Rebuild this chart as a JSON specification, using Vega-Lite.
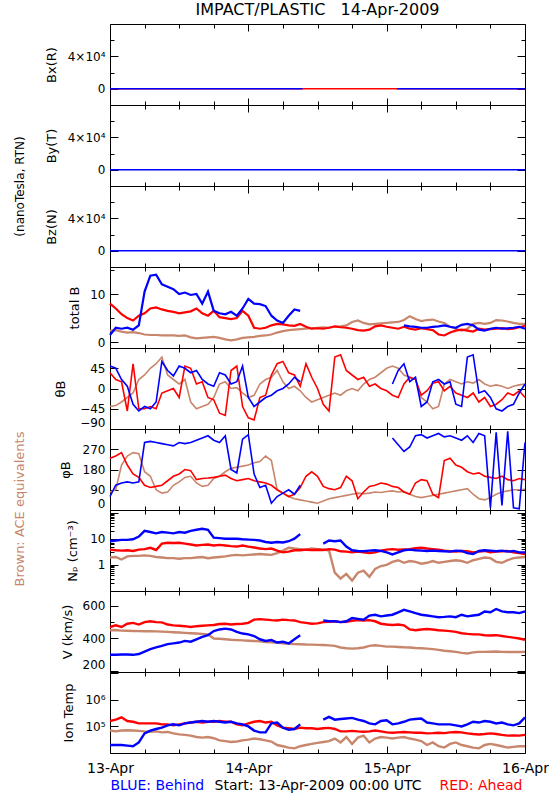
{
  "$schema": "https://vega.github.io/schema/vega-lite/v6.json",
  "background": "white",
  "padding": {"left": 12, "top": 2, "right": 0, "bottom": 0},
  "title": {"text": "IMPACT/PLASTIC\u00a0\u00a0\u00a014-Apr-2009", "anchor": "middle", "frame": "group", "fontSize": 16, "fontWeight": "normal", "font": "DejaVu Sans", "color": "#000000", "offset": 5},
  "spacing": 0,
  "bounds": "flush",
  "config": {
    "font": "DejaVu Sans",
    "view": {"stroke": "#000000", "strokeWidth": 1},
    "axis": {"grid": false, "domain": false, "labelFont": "DejaVu Sans", "labelFontSize": 12, "labelColor": "#000000", "titleFont": "DejaVu Sans", "titleFontSize": 13, "titleFontWeight": "normal", "titleColor": "#000000", "tickColor": "#000000", "tickWidth": 1, "labelOverlap": false, "labelPadding": 13},
    "axisY": {"labelFlush": 3},
    "axisX": {"labelFlush": false}
  },
  "datasets": {
    "bx": [{"h":0,"r":0,"b":0},{"h":33.4,"r":0,"b":0},{"h":33.5,"r":0,"b":null},{"h":49.7,"r":0,"b":null},{"h":49.8,"r":0,"b":0},{"h":72,"r":0,"b":0}],
    "byz": [{"h":0,"b":0},{"h":72,"b":0}],
    "tb": [{"h":0,"a":2.4,"r":8,"b":1.5},{"h":1,"a":2.5,"r":7,"b":3},{"h":2,"a":2.2,"r":5.8,"b":2.8},{"h":3,"a":2,"r":5,"b":3},{"h":4,"a":2.1,"r":4.5,"b":2.6},{"h":5,"a":1.9,"r":5.5,"b":3.5},{"h":6,"a":1.6,"r":6,"b":10.5},{"h":7,"a":1.5,"r":7,"b":13.8},{"h":8,"a":1.5,"r":7.2,"b":14},{"h":9,"a":1.4,"r":6.8,"b":12},{"h":10,"a":1.4,"r":6.5,"b":11.5},{"h":11,"a":1.4,"r":6.3,"b":11},{"h":12,"a":1.3,"r":6,"b":10},{"h":13,"a":1.4,"r":6.2,"b":10.3},{"h":14,"a":1,"r":6.4,"b":9.8},{"h":15,"a":0.8,"r":7,"b":10},{"h":16,"a":0.9,"r":6,"b":8},{"h":17,"a":1,"r":5.5,"b":10.5},{"h":18,"a":1.1,"r":6.5,"b":6.5},{"h":19,"a":0.9,"r":5.2,"b":6},{"h":20,"a":0.6,"r":5,"b":5.8},{"h":21,"a":0.4,"r":4.8,"b":6.3},{"h":22,"a":0.6,"r":5,"b":5.5},{"h":23,"a":0.9,"r":6.5,"b":7},{"h":24,"a":1,"r":5.5,"b":9},{"h":25,"a":1.1,"r":3,"b":8},{"h":26,"a":1.3,"r":2.8,"b":7.9},{"h":27,"a":1.4,"r":3,"b":7.5},{"h":28,"a":1.6,"r":3.5,"b":5.5},{"h":29,"a":2,"r":3.8,"b":4.5},{"h":30,"a":2.3,"r":3.7,"b":4},{"h":31,"a":2.5,"r":3.5,"b":5.5},{"h":32,"a":2.6,"r":3.4,"b":6.8},{"h":33,"a":2.7,"r":3.8,"b":6.5},{"h":34,"a":2.8,"r":3.2,"b":null},{"h":35,"a":2.9,"r":2.8,"b":null},{"h":36,"a":3,"r":2.9,"b":null},{"h":37,"a":3.1,"r":2.8,"b":null},{"h":38,"a":3,"r":3,"b":null},{"h":39,"a":3.2,"r":3.3,"b":null},{"h":40,"a":3.3,"r":3.1,"b":null},{"h":41,"a":3.5,"r":3,"b":null},{"h":42,"a":4.2,"r":2.8,"b":null},{"h":43,"a":4.5,"r":2.5,"b":null},{"h":44,"a":4,"r":2.4,"b":null},{"h":45,"a":3.7,"r":2.6,"b":null},{"h":46,"a":3.8,"r":3.3,"b":null},{"h":47,"a":3.9,"r":3.5,"b":null},{"h":48,"a":4,"r":3.2,"b":null},{"h":49,"a":4.1,"r":3,"b":null},{"h":50,"a":4.2,"r":2.8,"b":null},{"h":51,"a":4.6,"r":3.2,"b":3.5},{"h":52,"a":5.4,"r":2.8,"b":3.3},{"h":53,"a":4.8,"r":2.6,"b":3.2},{"h":54,"a":4.4,"r":2.9,"b":3},{"h":55,"a":4.6,"r":2.7,"b":3},{"h":56,"a":4.7,"r":2.5,"b":3.2},{"h":57,"a":4.3,"r":1.6,"b":3.3},{"h":58,"a":4,"r":1.4,"b":3.5},{"h":59,"a":3.2,"r":2,"b":3.2},{"h":60,"a":2.8,"r":2.4,"b":3},{"h":61,"a":2.4,"r":2.6,"b":3.6},{"h":62,"a":2.8,"r":2.4,"b":3.8},{"h":63,"a":3.8,"r":2.2,"b":3.5},{"h":64,"a":4,"r":2.8,"b":2.6},{"h":65,"a":3.8,"r":2.6,"b":2.4},{"h":66,"a":4,"r":2.7,"b":2.8},{"h":67,"a":4.6,"r":2.8,"b":3},{"h":68,"a":4.5,"r":2.9,"b":2.8},{"h":69,"a":4.3,"r":2.7,"b":2.9},{"h":70,"a":4,"r":2.8,"b":3},{"h":71,"a":3.8,"r":3.1,"b":3.2},{"h":72,"a":3.8,"r":3.4,"b":2.8}],
    "th": [{"h":0,"a":-40,"r":35,"b":50},{"h":1,"a":-38,"r":20,"b":45},{"h":2,"a":-30,"r":15,"b":20},{"h":3,"a":-20,"r":-50,"b":5},{"h":4,"a":-10,"r":55,"b":-35},{"h":5,"a":20,"r":-45,"b":-50},{"h":6,"a":30,"r":-45,"b":-40},{"h":7,"a":45,"r":-40,"b":-45},{"h":8,"a":55,"r":-45,"b":-30},{"h":9,"a":70,"r":-10,"b":60},{"h":10,"a":30,"r":-5,"b":40},{"h":11,"a":20,"r":0,"b":28},{"h":12,"a":10,"r":-20,"b":50},{"h":13,"a":20,"r":50,"b":45},{"h":14,"a":-30,"r":45,"b":35},{"h":15,"a":-45,"r":10,"b":40},{"h":16,"a":-40,"r":15,"b":20},{"h":17,"a":-35,"r":-20,"b":10},{"h":18,"a":-20,"r":-25,"b":5},{"h":19,"a":10,"r":-55,"b":35},{"h":20,"a":15,"r":-60,"b":30},{"h":21,"a":0,"r":40,"b":10},{"h":22,"a":2,"r":50,"b":15},{"h":23,"a":-10,"r":-40,"b":50},{"h":24,"a":-20,"r":-65,"b":-20},{"h":25,"a":-15,"r":-70,"b":-40},{"h":26,"a":10,"r":-20,"b":-30},{"h":27,"a":20,"r":-15,"b":-20},{"h":28,"a":25,"r":30,"b":-15},{"h":29,"a":40,"r":55,"b":-5},{"h":30,"a":15,"r":60,"b":0},{"h":31,"a":0,"r":35,"b":10},{"h":32,"a":5,"r":30,"b":25},{"h":33,"a":-5,"r":5,"b":15},{"h":34,"a":-20,"r":55,"b":null},{"h":35,"a":-30,"r":25,"b":null},{"h":36,"a":-25,"r":0,"b":null},{"h":37,"a":-20,"r":-35,"b":null},{"h":38,"a":-15,"r":-50,"b":null},{"h":39,"a":-10,"r":70,"b":null},{"h":40,"a":-15,"r":75,"b":null},{"h":41,"a":-5,"r":40,"b":null},{"h":42,"a":0,"r":30,"b":null},{"h":43,"a":-5,"r":20,"b":null},{"h":44,"a":10,"r":25,"b":null},{"h":45,"a":20,"r":5,"b":null},{"h":46,"a":25,"r":10,"b":null},{"h":47,"a":35,"r":0,"b":null},{"h":48,"a":45,"r":-5,"b":null},{"h":49,"a":50,"r":-15,"b":10},{"h":50,"a":45,"r":-20,"b":40},{"h":51,"a":30,"r":10,"b":55},{"h":52,"a":25,"r":25,"b":15},{"h":53,"a":20,"r":20,"b":25},{"h":54,"a":-20,"r":-15,"b":-40},{"h":55,"a":-30,"r":-5,"b":-30},{"h":56,"a":-45,"r":12,"b":15},{"h":57,"a":-40,"r":15,"b":20},{"h":58,"a":10,"r":-5,"b":10},{"h":59,"a":20,"r":5,"b":15},{"h":60,"a":15,"r":-10,"b":-35},{"h":61,"a":10,"r":-15,"b":-40},{"h":62,"a":15,"r":-20,"b":70},{"h":63,"a":12,"r":-10,"b":75},{"h":64,"a":20,"r":-30,"b":-10},{"h":65,"a":10,"r":-20,"b":-5},{"h":66,"a":5,"r":-40,"b":-20},{"h":67,"a":8,"r":-35,"b":-45},{"h":68,"a":5,"r":-25,"b":-50},{"h":69,"a":0,"r":-10,"b":-40},{"h":70,"a":5,"r":-15,"b":-35},{"h":71,"a":8,"r":-5,"b":-10},{"h":72,"a":10,"r":-20,"b":10}],
    "ph": [{"h":0,"a":80,"r":230,"b":60},{"h":1,"a":90,"r":240,"b":110},{"h":2,"a":200,"r":255,"b":120},{"h":3,"a":240,"r":200,"b":125},{"h":4,"a":255,"r":160,"b":120},{"h":5,"a":250,"r":145,"b":125},{"h":6,"a":170,"r":110,"b":300},{"h":7,"a":150,"r":100,"b":305},{"h":8,"a":90,"r":105,"b":300},{"h":9,"a":75,"r":110,"b":295},{"h":10,"a":80,"r":130,"b":290},{"h":11,"a":110,"r":150,"b":285},{"h":12,"a":125,"r":160,"b":300},{"h":13,"a":145,"r":180,"b":295},{"h":14,"a":150,"r":175,"b":300},{"h":15,"a":120,"r":135,"b":310},{"h":16,"a":105,"r":140,"b":320},{"h":17,"a":110,"r":142,"b":330},{"h":18,"a":140,"r":145,"b":310},{"h":19,"a":150,"r":150,"b":300},{"h":20,"a":170,"r":155,"b":330},{"h":21,"a":185,"r":140,"b":180},{"h":22,"a":190,"r":130,"b":165},{"h":23,"a":195,"r":135,"b":315},{"h":24,"a":200,"r":140,"b":335},{"h":25,"a":210,"r":130,"b":160},{"h":26,"a":215,"r":125,"b":100},{"h":27,"a":240,"r":120,"b":110},{"h":28,"a":220,"r":110,"b":30},{"h":29,"a":90,"r":90,"b":60},{"h":30,"a":75,"r":75,"b":75},{"h":31,"a":60,"r":60,"b":90},{"h":32,"a":50,"r":70,"b":70},{"h":33,"a":45,"r":100,"b":110},{"h":34,"a":40,"r":150,"b":null},{"h":35,"a":35,"r":170,"b":null},{"h":36,"a":30,"r":150,"b":null},{"h":37,"a":40,"r":105,"b":null},{"h":38,"a":50,"r":95,"b":null},{"h":39,"a":55,"r":90,"b":null},{"h":40,"a":60,"r":100,"b":null},{"h":41,"a":65,"r":150,"b":null},{"h":42,"a":70,"r":130,"b":null},{"h":43,"a":75,"r":50,"b":null},{"h":44,"a":72,"r":80,"b":null},{"h":45,"a":75,"r":105,"b":null},{"h":46,"a":80,"r":110,"b":null},{"h":47,"a":78,"r":120,"b":null},{"h":48,"a":82,"r":115,"b":null},{"h":49,"a":85,"r":105,"b":320},{"h":50,"a":80,"r":100,"b":290},{"h":51,"a":82,"r":80,"b":260},{"h":52,"a":70,"r":70,"b":280},{"h":53,"a":60,"r":120,"b":330},{"h":54,"a":55,"r":135,"b":335},{"h":55,"a":60,"r":130,"b":320},{"h":56,"a":65,"r":70,"b":330},{"h":57,"a":70,"r":55,"b":340},{"h":58,"a":75,"r":220,"b":325},{"h":59,"a":80,"r":230,"b":330},{"h":60,"a":85,"r":200,"b":320},{"h":61,"a":90,"r":190,"b":310},{"h":62,"a":95,"r":170,"b":330},{"h":63,"a":70,"r":160,"b":300},{"h":64,"a":50,"r":165,"b":340},{"h":65,"a":45,"r":150,"b":330},{"h":66,"a":55,"r":145,"b":10},{"h":67,"a":70,"r":140,"b":345},{"h":68,"a":80,"r":150,"b":20},{"h":69,"a":85,"r":135,"b":350},{"h":70,"a":90,"r":130,"b":10},{"h":71,"a":90,"r":140,"b":5},{"h":72,"a":92,"r":135,"b":300}],
    "np": [{"h":0,"a":1.9,"r":3.8,"b":8},{"h":1,"a":2,"r":3.6,"b":8.5},{"h":2,"a":1.6,"r":3.5,"b":9},{"h":3,"a":2.1,"r":3.6,"b":9},{"h":4,"a":2.2,"r":3.4,"b":9.5},{"h":5,"a":2.2,"r":3.8,"b":12},{"h":6,"a":2.3,"r":4,"b":20},{"h":7,"a":2.2,"r":4.5,"b":18},{"h":8,"a":2,"r":3.7,"b":16},{"h":9,"a":1.9,"r":6.5,"b":18},{"h":10,"a":1.8,"r":7,"b":17},{"h":11,"a":1.8,"r":6.8,"b":16},{"h":12,"a":1.7,"r":7,"b":18},{"h":13,"a":1.8,"r":6.5,"b":17},{"h":14,"a":1.8,"r":6,"b":20},{"h":15,"a":1.9,"r":5.5,"b":22},{"h":16,"a":2,"r":5.8,"b":24},{"h":17,"a":1.8,"r":6,"b":22},{"h":18,"a":1.9,"r":5.5,"b":11},{"h":19,"a":2,"r":5.8,"b":10.5},{"h":20,"a":2.1,"r":5.5,"b":10},{"h":21,"a":2.3,"r":5.2,"b":10},{"h":22,"a":2.4,"r":5,"b":10},{"h":23,"a":2.3,"r":5.5,"b":9.5},{"h":24,"a":2.4,"r":5,"b":9.2},{"h":25,"a":2.5,"r":4.6,"b":9},{"h":26,"a":2.6,"r":4.2,"b":8.5},{"h":27,"a":2.5,"r":4,"b":7.5},{"h":28,"a":2.4,"r":4.2,"b":7},{"h":29,"a":2.8,"r":3.5,"b":7.5},{"h":30,"a":3.5,"r":3,"b":7.2},{"h":31,"a":4.5,"r":3.2,"b":8},{"h":32,"a":4.2,"r":3.6,"b":10},{"h":33,"a":4,"r":3.6,"b":15},{"h":34,"a":3.8,"r":3.8,"b":null},{"h":35,"a":4.2,"r":3.7,"b":null},{"h":36,"a":4,"r":3.8,"b":null},{"h":37,"a":3.8,"r":3.7,"b":6.5},{"h":38,"a":3.5,"r":4,"b":8.5},{"h":39,"a":0.5,"r":3.8,"b":8},{"h":40,"a":0.3,"r":3.3,"b":8.5},{"h":41,"a":0.45,"r":3.2,"b":5},{"h":42,"a":0.25,"r":3,"b":3.6},{"h":43,"a":0.5,"r":3.2,"b":3.4},{"h":44,"a":0.6,"r":3,"b":3.3},{"h":45,"a":0.35,"r":2.8,"b":3.5},{"h":46,"a":0.7,"r":3,"b":3.6},{"h":47,"a":0.9,"r":3.5,"b":3.4},{"h":48,"a":1,"r":3.8,"b":3},{"h":49,"a":1.3,"r":4,"b":2.5},{"h":50,"a":1.5,"r":3.8,"b":3},{"h":51,"a":1.2,"r":3.9,"b":3.6},{"h":52,"a":1.4,"r":4,"b":3.8},{"h":53,"a":1.3,"r":4.3,"b":3.6},{"h":54,"a":1.1,"r":4.5,"b":3.5},{"h":55,"a":1.2,"r":4.2,"b":3.4},{"h":56,"a":1.4,"r":4,"b":3.5},{"h":57,"a":1.2,"r":3.8,"b":3.4},{"h":58,"a":1.3,"r":3.5,"b":3.3},{"h":59,"a":1.4,"r":3.3,"b":3.2},{"h":60,"a":1.5,"r":3.2,"b":3.5},{"h":61,"a":1.4,"r":3.4,"b":3.4},{"h":62,"a":1.2,"r":3.3,"b":2.8},{"h":63,"a":1.5,"r":3,"b":2.6},{"h":64,"a":1.7,"r":3.2,"b":3.4},{"h":65,"a":1.9,"r":3.4,"b":3.6},{"h":66,"a":1.8,"r":3,"b":3.5},{"h":67,"a":1.3,"r":3.2,"b":3.3},{"h":68,"a":1.2,"r":3.3,"b":3.5},{"h":69,"a":1.5,"r":3.4,"b":3.2},{"h":70,"a":1.8,"r":3,"b":3.4},{"h":71,"a":1.9,"r":2.8,"b":3},{"h":72,"a":2,"r":2.6,"b":3}],
    "v": [{"h":0,"a":450,"r":470,"b":300},{"h":1,"a":452,"r":480,"b":300},{"h":2,"a":448,"r":470,"b":302},{"h":3,"a":447,"r":490,"b":302},{"h":4,"a":446,"r":495,"b":300},{"h":5,"a":445,"r":485,"b":305},{"h":6,"a":444,"r":500,"b":320},{"h":7,"a":444,"r":505,"b":335},{"h":8,"a":443,"r":500,"b":345},{"h":9,"a":442,"r":498,"b":355},{"h":10,"a":440,"r":485,"b":365},{"h":11,"a":438,"r":480,"b":370},{"h":12,"a":436,"r":478,"b":375},{"h":13,"a":434,"r":475,"b":385},{"h":14,"a":432,"r":470,"b":380},{"h":15,"a":430,"r":475,"b":395},{"h":16,"a":428,"r":478,"b":410},{"h":17,"a":425,"r":480,"b":420},{"h":18,"a":400,"r":482,"b":445},{"h":19,"a":398,"r":488,"b":455},{"h":20,"a":395,"r":490,"b":460},{"h":21,"a":392,"r":485,"b":455},{"h":22,"a":390,"r":488,"b":440},{"h":23,"a":388,"r":490,"b":430},{"h":24,"a":386,"r":495,"b":425},{"h":25,"a":384,"r":515,"b":415},{"h":26,"a":382,"r":518,"b":395},{"h":27,"a":378,"r":515,"b":385},{"h":28,"a":376,"r":512,"b":390},{"h":29,"a":374,"r":510,"b":375},{"h":30,"a":370,"r":515,"b":380},{"h":31,"a":368,"r":512,"b":370},{"h":32,"a":366,"r":510,"b":395},{"h":33,"a":365,"r":500,"b":420},{"h":34,"a":363,"r":495,"b":null},{"h":35,"a":362,"r":490,"b":null},{"h":36,"a":361,"r":492,"b":null},{"h":37,"a":360,"r":500,"b":510},{"h":38,"a":358,"r":502,"b":505},{"h":39,"a":355,"r":505,"b":505},{"h":40,"a":345,"r":500,"b":500},{"h":41,"a":340,"r":502,"b":505},{"h":42,"a":338,"r":508,"b":525},{"h":43,"a":340,"r":512,"b":520},{"h":44,"a":345,"r":510,"b":515},{"h":45,"a":355,"r":512,"b":540},{"h":46,"a":358,"r":505,"b":545},{"h":47,"a":355,"r":490,"b":535},{"h":48,"a":350,"r":485,"b":540},{"h":49,"a":350,"r":482,"b":545},{"h":50,"a":348,"r":485,"b":560},{"h":51,"a":346,"r":480,"b":575},{"h":52,"a":345,"r":455,"b":565},{"h":53,"a":342,"r":450,"b":555},{"h":54,"a":340,"r":455,"b":545},{"h":55,"a":338,"r":458,"b":540},{"h":56,"a":335,"r":455,"b":535},{"h":57,"a":330,"r":450,"b":530},{"h":58,"a":325,"r":448,"b":532},{"h":59,"a":322,"r":445,"b":535},{"h":60,"a":318,"r":440,"b":530},{"h":61,"a":312,"r":432,"b":545},{"h":62,"a":308,"r":428,"b":535},{"h":63,"a":315,"r":425,"b":540},{"h":64,"a":318,"r":425,"b":545},{"h":65,"a":318,"r":420,"b":565},{"h":66,"a":319,"r":418,"b":560},{"h":67,"a":320,"r":420,"b":580},{"h":68,"a":318,"r":415,"b":565},{"h":69,"a":317,"r":410,"b":560},{"h":70,"a":318,"r":405,"b":560},{"h":71,"a":317,"r":400,"b":555},{"h":72,"a":318,"r":392,"b":565}],
    "t": [{"h":0,"a":70000,"r":160000,"b":20000},{"h":1,"a":65000,"r":180000,"b":20000},{"h":2,"a":70000,"r":220000,"b":20000},{"h":3,"a":72000,"r":160000,"b":19000},{"h":4,"a":70000,"r":150000,"b":18000},{"h":5,"a":68000,"r":130000,"b":25000},{"h":6,"a":65000,"r":130000,"b":55000},{"h":7,"a":63000,"r":130000,"b":70000},{"h":8,"a":65000,"r":130000,"b":80000},{"h":9,"a":60000,"r":120000,"b":90000},{"h":10,"a":62000,"r":120000,"b":110000},{"h":11,"a":55000,"r":110000,"b":120000},{"h":12,"a":50000,"r":120000,"b":110000},{"h":13,"a":48000,"r":130000,"b":130000},{"h":14,"a":45000,"r":140000,"b":140000},{"h":15,"a":40000,"r":150000,"b":150000},{"h":16,"a":38000,"r":140000,"b":160000},{"h":17,"a":40000,"r":150000,"b":150000},{"h":18,"a":36000,"r":150000,"b":160000},{"h":19,"a":30000,"r":160000,"b":150000},{"h":20,"a":28000,"r":150000,"b":140000},{"h":21,"a":26000,"r":150000,"b":150000},{"h":22,"a":27000,"r":120000,"b":130000},{"h":23,"a":30000,"r":110000,"b":120000},{"h":24,"a":32000,"r":130000,"b":100000},{"h":25,"a":35000,"r":150000,"b":70000},{"h":26,"a":33000,"r":160000,"b":60000},{"h":27,"a":30000,"r":140000,"b":60000},{"h":28,"a":27000,"r":150000,"b":130000},{"h":29,"a":20000,"r":110000,"b":140000},{"h":30,"a":18000,"r":90000,"b":90000},{"h":31,"a":16000,"r":85000,"b":75000},{"h":32,"a":15000,"r":80000,"b":80000},{"h":33,"a":18000,"r":90000,"b":120000},{"h":34,"a":20000,"r":85000,"b":null},{"h":35,"a":22000,"r":85000,"b":null},{"h":36,"a":24000,"r":80000,"b":null},{"h":37,"a":26000,"r":85000,"b":180000},{"h":38,"a":28000,"r":88000,"b":230000},{"h":39,"a":35000,"r":80000,"b":180000},{"h":40,"a":25000,"r":65000,"b":190000},{"h":41,"a":40000,"r":65000,"b":200000},{"h":42,"a":22000,"r":68000,"b":210000},{"h":43,"a":38000,"r":65000,"b":180000},{"h":44,"a":45000,"r":63000,"b":160000},{"h":45,"a":25000,"r":65000,"b":130000},{"h":46,"a":35000,"r":70000,"b":120000},{"h":47,"a":40000,"r":65000,"b":160000},{"h":48,"a":38000,"r":60000,"b":170000},{"h":49,"a":35000,"r":58000,"b":120000},{"h":50,"a":38000,"r":60000,"b":130000},{"h":51,"a":40000,"r":62000,"b":150000},{"h":52,"a":35000,"r":60000,"b":180000},{"h":53,"a":32000,"r":58000,"b":190000},{"h":54,"a":28000,"r":58000,"b":200000},{"h":55,"a":20000,"r":55000,"b":140000},{"h":56,"a":25000,"r":56000,"b":130000},{"h":57,"a":18000,"r":58000,"b":120000},{"h":58,"a":16000,"r":56000,"b":120000},{"h":59,"a":22000,"r":60000,"b":120000},{"h":60,"a":25000,"r":62000,"b":110000},{"h":61,"a":20000,"r":60000,"b":100000},{"h":62,"a":18000,"r":55000,"b":120000},{"h":63,"a":16000,"r":52000,"b":150000},{"h":64,"a":15000,"r":50000,"b":140000},{"h":65,"a":20000,"r":52000,"b":160000},{"h":66,"a":22000,"r":55000,"b":150000},{"h":67,"a":20000,"r":52000,"b":130000},{"h":68,"a":18000,"r":48000,"b":140000},{"h":69,"a":16000,"r":45000,"b":120000},{"h":70,"a":17000,"r":46000,"b":110000},{"h":71,"a":18000,"r":45000,"b":130000},{"h":72,"a":18000,"r":48000,"b":220000}]
  },
  "vconcat": [
    {
      "width": 415, "height": 81,
      "data": {"name": "bx"},
      "transform": [{"fold": ["r", "b"], "as": ["s", "v"]}],
      "resolve": {"axis": {"x": "independent", "y": "independent"}},
      "layer": [
        {"mark": {"type": "line", "invalid": "break-paths-filter-domains", "strokeWidth": 1.5},
         "encoding": {
           "x": {"field": "h", "type": "quantitative", "scale": {"domain": [0, 72], "nice": false, "zero": false}, "axis": {"orient": "bottom", "values": [0,6,12,18,24,30,36,42,48,54,60,66,72], "labels": false, "title": null, "tickSize": {"condition": {"test": "datum.value % 24 === 0", "value": -7}, "value": -4}}},
           "y": {"field": "v", "type": "quantitative", "scale": {"domain": [-20000, 80000], "nice": false, "zero": false}, "axis": {"orient": "left", "values": [0, 20000, 40000, 60000], "labelExpr": "datum.value === 0 ? '0' : datum.value === 40000 ? '4×10⁴' : ''", "tickSize": {"condition": {"test": "datum.value === 0 || datum.value === 40000", "value": -8}, "value": -4}, "title": "Bx(R)", "titleX": -59, "titleBaseline": "middle"}},
           "color": {"field": "s", "type": "nominal", "scale": {"domain": ["a", "r", "b"], "range": ["#c8866c", "#ff0000", "#0000ff"]}, "legend": null}
         }},
        {"mark": {"type": "point", "opacity": 0},
         "encoding": {
           "x": {"field": "h", "type": "quantitative", "axis": {"orient": "top", "values": [0,6,12,18,24,30,36,42,48,54,60,66,72], "labels": false, "title": null, "tickSize": {"condition": {"test": "datum.value % 24 === 0", "value": -7}, "value": -4}}},
           "y": {"field": "v", "type": "quantitative", "axis": {"orient": "right", "values": [0, 20000, 40000, 60000], "labels": false, "title": null, "tickSize": {"condition": {"test": "datum.value === 0 || datum.value === 40000", "value": -8}, "value": -4}}}
         }}
      ]
    },
    {
      "width": 415, "height": 81,
      "data": {"name": "byz"},
      "transform": [{"fold": ["b"], "as": ["s", "v"]}],
      "resolve": {"axis": {"x": "independent", "y": "independent"}},
      "layer": [
        {"mark": {"type": "line", "invalid": "break-paths-filter-domains", "strokeWidth": 1.5},
         "encoding": {
           "x": {"field": "h", "type": "quantitative", "scale": {"domain": [0, 72], "nice": false, "zero": false}, "axis": {"orient": "bottom", "values": [0,6,12,18,24,30,36,42,48,54,60,66,72], "labels": false, "title": null, "tickSize": {"condition": {"test": "datum.value % 24 === 0", "value": -7}, "value": -4}}},
           "y": {"field": "v", "type": "quantitative", "scale": {"domain": [-20000, 80000], "nice": false, "zero": false}, "axis": {"orient": "left", "values": [0, 20000, 40000, 60000], "labelExpr": "datum.value === 0 ? '0' : datum.value === 40000 ? '4×10⁴' : ''", "tickSize": {"condition": {"test": "datum.value === 0 || datum.value === 40000", "value": -8}, "value": -4}, "title": "By(T)", "titleX": -59, "titleBaseline": "middle"}},
           "color": {"field": "s", "type": "nominal", "scale": {"domain": ["a", "r", "b"], "range": ["#c8866c", "#ff0000", "#0000ff"]}, "legend": null}
         }},
        {"mark": {"type": "point", "opacity": 0},
         "encoding": {
           "x": {"field": "h", "type": "quantitative", "axis": {"orient": "top", "values": [0,6,12,18,24,30,36,42,48,54,60,66,72], "labels": false, "title": null, "tickSize": {"condition": {"test": "datum.value % 24 === 0", "value": -7}, "value": -4}}},
           "y": {"field": "v", "type": "quantitative", "axis": {"orient": "right", "values": [0, 20000, 40000, 60000], "labels": false, "title": null, "tickSize": {"condition": {"test": "datum.value === 0 || datum.value === 40000", "value": -8}, "value": -4}}}
         }},
        {"mark": {"type": "point", "opacity": 0},
         "encoding": {
           "x": {"field": "h", "type": "quantitative", "axis": null},
           "y": {"field": "v", "type": "quantitative", "axis": {"orient": "left", "labels": false, "ticks": false, "domain": false, "title": "(nanoTesla, RTN)", "titleX": -91, "titleY": 81, "titleBaseline": "middle", "titleAlign": "center", "titleAngle": 270, "titleFontSize": 12}}
         }}
      ]
    },
    {
      "width": 415, "height": 81,
      "data": {"name": "byz"},
      "transform": [{"fold": ["b"], "as": ["s", "v"]}],
      "resolve": {"axis": {"x": "independent", "y": "independent"}},
      "layer": [
        {"mark": {"type": "line", "invalid": "break-paths-filter-domains", "strokeWidth": 1.5},
         "encoding": {
           "x": {"field": "h", "type": "quantitative", "scale": {"domain": [0, 72], "nice": false, "zero": false}, "axis": {"orient": "bottom", "values": [0,6,12,18,24,30,36,42,48,54,60,66,72], "labels": false, "title": null, "tickSize": {"condition": {"test": "datum.value % 24 === 0", "value": -7}, "value": -4}}},
           "y": {"field": "v", "type": "quantitative", "scale": {"domain": [-20000, 80000], "nice": false, "zero": false}, "axis": {"orient": "left", "values": [0, 20000, 40000, 60000], "labelExpr": "datum.value === 0 ? '0' : datum.value === 40000 ? '4×10⁴' : ''", "tickSize": {"condition": {"test": "datum.value === 0 || datum.value === 40000", "value": -8}, "value": -4}, "title": "Bz(N)", "titleX": -59, "titleBaseline": "middle"}},
           "color": {"field": "s", "type": "nominal", "scale": {"domain": ["a", "r", "b"], "range": ["#c8866c", "#ff0000", "#0000ff"]}, "legend": null}
         }},
        {"mark": {"type": "point", "opacity": 0},
         "encoding": {
           "x": {"field": "h", "type": "quantitative", "axis": {"orient": "top", "values": [0,6,12,18,24,30,36,42,48,54,60,66,72], "labels": false, "title": null, "tickSize": {"condition": {"test": "datum.value % 24 === 0", "value": -7}, "value": -4}}},
           "y": {"field": "v", "type": "quantitative", "axis": {"orient": "right", "values": [0, 20000, 40000, 60000], "labels": false, "title": null, "tickSize": {"condition": {"test": "datum.value === 0 || datum.value === 40000", "value": -8}, "value": -4}}}
         }}
      ]
    },
    {
      "width": 415, "height": 81,
      "data": {"name": "tb"},
      "transform": [{"fold": ["a", "r", "b"], "as": ["s", "v"]}],
      "resolve": {"axis": {"x": "independent", "y": "independent"}},
      "layer": [
        {"mark": {"type": "line", "invalid": "break-paths-filter-domains", "strokeWidth": 2.2},
         "encoding": {
           "x": {"field": "h", "type": "quantitative", "scale": {"domain": [0, 72], "nice": false, "zero": false}, "axis": {"orient": "bottom", "values": [0,6,12,18,24,30,36,42,48,54,60,66,72], "labels": false, "title": null, "tickSize": {"condition": {"test": "datum.value % 24 === 0", "value": -7}, "value": -4}}},
           "y": {"field": "v", "type": "quantitative", "scale": {"domain": [-1.2, 15.6], "nice": false, "zero": false}, "axis": {"orient": "left", "values": [0, 5, 10, 15], "labelExpr": "datum.value % 10 === 0 ? '' + datum.value : ''", "tickSize": {"condition": {"test": "datum.value % 10 === 0", "value": -8}, "value": -4}, "title": "total B", "titleX": -36, "titleBaseline": "middle"}},
           "color": {"field": "s", "type": "nominal", "scale": {"domain": ["a", "r", "b"], "range": ["#c8866c", "#ff0000", "#0000ff"]}, "legend": null}
         }},
        {"mark": {"type": "point", "opacity": 0},
         "encoding": {
           "x": {"field": "h", "type": "quantitative", "axis": {"orient": "top", "values": [0,6,12,18,24,30,36,42,48,54,60,66,72], "labels": false, "title": null, "tickSize": {"condition": {"test": "datum.value % 24 === 0", "value": -7}, "value": -4}}},
           "y": {"field": "v", "type": "quantitative", "axis": {"orient": "right", "values": [0, 5, 10, 15], "labels": false, "title": null, "tickSize": {"condition": {"test": "datum.value % 10 === 0", "value": -8}, "value": -4}}}
         }}
      ]
    },
    {
      "width": 415, "height": 81,
      "data": {"name": "th"},
      "transform": [{"fold": ["a", "r", "b"], "as": ["s", "v"]}],
      "resolve": {"axis": {"x": "independent", "y": "independent"}},
      "layer": [
        {"mark": {"type": "line", "invalid": "break-paths-filter-domains", "strokeWidth": 1.6},
         "encoding": {
           "x": {"field": "h", "type": "quantitative", "scale": {"domain": [0, 72], "nice": false, "zero": false}, "axis": {"orient": "bottom", "values": [0,6,12,18,24,30,36,42,48,54,60,66,72], "labels": false, "title": null, "tickSize": {"condition": {"test": "datum.value % 24 === 0", "value": -7}, "value": -4}}},
           "y": {"field": "v", "type": "quantitative", "scale": {"domain": [-90, 90], "nice": false, "zero": false}, "axis": {"orient": "left", "values": [-90, -45, 0, 45, 90], "labelExpr": "datum.value === 90 ? '' : datum.value < 0 ? '−' + (-datum.value) : '' + datum.value", "tickSize": -8, "title": "θB", "titleX": -50, "titleBaseline": "middle"}},
           "color": {"field": "s", "type": "nominal", "scale": {"domain": ["a", "r", "b"], "range": ["#c8866c", "#ff0000", "#0000ff"]}, "legend": null}
         }},
        {"mark": {"type": "point", "opacity": 0},
         "encoding": {
           "x": {"field": "h", "type": "quantitative", "axis": {"orient": "top", "values": [0,6,12,18,24,30,36,42,48,54,60,66,72], "labels": false, "title": null, "tickSize": {"condition": {"test": "datum.value % 24 === 0", "value": -7}, "value": -4}}},
           "y": {"field": "v", "type": "quantitative", "axis": {"orient": "right", "values": [-90, -45, 0, 45, 90], "labels": false, "title": null, "tickSize": -8}}
         }}
      ]
    },
    {
      "width": 415, "height": 81,
      "data": {"name": "ph"},
      "transform": [{"fold": ["a", "r", "b"], "as": ["s", "v"]}],
      "resolve": {"axis": {"x": "independent", "y": "independent"}},
      "layer": [
        {"mark": {"type": "line", "invalid": "break-paths-filter-domains", "strokeWidth": 1.6},
         "encoding": {
           "x": {"field": "h", "type": "quantitative", "scale": {"domain": [0, 72], "nice": false, "zero": false}, "axis": {"orient": "bottom", "values": [0,6,12,18,24,30,36,42,48,54,60,66,72], "labels": false, "title": null, "tickSize": {"condition": {"test": "datum.value % 24 === 0", "value": -7}, "value": -4}}},
           "y": {"field": "v", "type": "quantitative", "scale": {"domain": [0, 360], "nice": false, "zero": false}, "axis": {"orient": "left", "values": [0, 90, 180, 270, 360], "labelExpr": "datum.value === 360 ? '' : '' + datum.value", "tickSize": -8, "title": "φB", "titleX": -45, "titleBaseline": "middle"}},
           "color": {"field": "s", "type": "nominal", "scale": {"domain": ["a", "r", "b"], "range": ["#c8866c", "#ff0000", "#0000ff"]}, "legend": null}
         }},
        {"mark": {"type": "point", "opacity": 0},
         "encoding": {
           "x": {"field": "h", "type": "quantitative", "axis": {"orient": "top", "values": [0,6,12,18,24,30,36,42,48,54,60,66,72], "labels": false, "title": null, "tickSize": {"condition": {"test": "datum.value % 24 === 0", "value": -7}, "value": -4}}},
           "y": {"field": "v", "type": "quantitative", "axis": {"orient": "right", "values": [0, 90, 180, 270, 360], "labels": false, "title": null, "tickSize": -8}}
         }},
        {"mark": {"type": "point", "opacity": 0},
         "encoding": {
           "x": {"field": "h", "type": "quantitative", "axis": null},
           "y": {"field": "v", "type": "quantitative", "axis": {"orient": "left", "labels": false, "ticks": false, "domain": false, "title": "Brown: ACE equivalents", "titleColor": "#c8866c", "titleX": -91, "titleY": 79.5, "titleBaseline": "middle", "titleAlign": "center", "titleAngle": 270, "titleFontSize": 13}}
         }}
      ]
    },
    {
      "width": 415, "height": 81,
      "data": {"name": "np"},
      "transform": [{"fold": ["a", "r", "b"], "as": ["s", "v"]}],
      "resolve": {"axis": {"x": "independent", "y": "independent"}},
      "layer": [
        {"mark": {"type": "line", "invalid": "break-paths-filter-domains", "strokeWidth": 2.4},
         "encoding": {
           "x": {"field": "h", "type": "quantitative", "scale": {"domain": [0, 72], "nice": false, "zero": false}, "axis": {"orient": "bottom", "values": [0,6,12,18,24,30,36,42,48,54,60,66,72], "labels": false, "title": null, "tickSize": {"condition": {"test": "datum.value % 24 === 0", "value": -7}, "value": -4}}},
           "y": {"field": "v", "type": "quantitative", "scale": {"type": "log", "domain": [0.1, 125], "nice": false}, "axis": {"orient": "left", "values": [0.2,0.3,0.4,0.5,0.6,0.7,0.8,0.9,1,2,3,4,5,6,7,8,9,10,20,30,40,50,60,70,80,90,100], "labelExpr": "datum.value === 1 ? '1' : datum.value === 10 ? '10' : ''", "tickSize": {"condition": {"test": "datum.value === 1 || datum.value === 10 || datum.value === 100", "value": -8}, "value": -4}, "title": "Nₚ (cm⁻³)", "titleX": -38, "titleBaseline": "middle"}},
           "color": {"field": "s", "type": "nominal", "scale": {"domain": ["a", "r", "b"], "range": ["#c8866c", "#ff0000", "#0000ff"]}, "legend": null}
         }},
        {"mark": {"type": "point", "opacity": 0},
         "encoding": {
           "x": {"field": "h", "type": "quantitative", "axis": {"orient": "top", "values": [0,6,12,18,24,30,36,42,48,54,60,66,72], "labels": false, "title": null, "tickSize": {"condition": {"test": "datum.value % 24 === 0", "value": -7}, "value": -4}}},
           "y": {"field": "v", "type": "quantitative", "axis": {"orient": "right", "values": [0.2,0.3,0.4,0.5,0.6,0.7,0.8,0.9,1,2,3,4,5,6,7,8,9,10,20,30,40,50,60,70,80,90,100], "labels": false, "title": null, "tickSize": {"condition": {"test": "datum.value === 1 || datum.value === 10 || datum.value === 100", "value": -8}, "value": -4}}}
         }}
      ]
    },
    {
      "width": 415, "height": 81,
      "data": {"name": "v"},
      "transform": [{"fold": ["a", "r", "b"], "as": ["s", "v"]}],
      "resolve": {"axis": {"x": "independent", "y": "independent"}},
      "layer": [
        {"mark": {"type": "line", "invalid": "break-paths-filter-domains", "strokeWidth": 2.4},
         "encoding": {
           "x": {"field": "h", "type": "quantitative", "scale": {"domain": [0, 72], "nice": false, "zero": false}, "axis": {"orient": "bottom", "values": [0,6,12,18,24,30,36,42,48,54,60,66,72], "labels": false, "title": null, "tickSize": {"condition": {"test": "datum.value % 24 === 0", "value": -7}, "value": -4}}},
           "y": {"field": "v", "type": "quantitative", "scale": {"domain": [195, 690], "nice": false, "zero": false}, "axis": {"orient": "left", "values": [200, 300, 400, 500, 600], "labelExpr": "datum.value % 200 === 0 ? '' + datum.value : ''", "tickSize": {"condition": {"test": "datum.value % 200 === 0", "value": -8}, "value": -4}, "title": "V (km/s)", "titleX": -43, "titleBaseline": "middle"}},
           "color": {"field": "s", "type": "nominal", "scale": {"domain": ["a", "r", "b"], "range": ["#c8866c", "#ff0000", "#0000ff"]}, "legend": null}
         }},
        {"mark": {"type": "point", "opacity": 0},
         "encoding": {
           "x": {"field": "h", "type": "quantitative", "axis": {"orient": "top", "values": [0,6,12,18,24,30,36,42,48,54,60,66,72], "labels": false, "title": null, "tickSize": {"condition": {"test": "datum.value % 24 === 0", "value": -7}, "value": -4}}},
           "y": {"field": "v", "type": "quantitative", "axis": {"orient": "right", "values": [200, 300, 400, 500, 600], "labels": false, "title": null, "tickSize": {"condition": {"test": "datum.value % 200 === 0", "value": -8}, "value": -4}}}
         }}
      ]
    },
    {
      "width": 415, "height": 81,
      "data": {"name": "t"},
      "transform": [{"fold": ["a", "r", "b"], "as": ["s", "v"]}],
      "resolve": {"axis": {"x": "independent", "y": "independent"}},
      "layer": [
        {"mark": {"type": "line", "invalid": "break-paths-filter-domains", "strokeWidth": 2.4},
         "encoding": {
           "x": {"field": "h", "type": "quantitative", "scale": {"domain": [0, 72], "nice": false, "zero": false}, "axis": {"orient": "bottom", "values": [0,6,12,18,24,30,36,42,48,54,60,66,72], "labelExpr": "datum.value % 24 === 0 ? ['13-Apr','14-Apr','15-Apr','16-Apr'][datum.value / 24] : ''", "labelFontSize": 14, "labelPadding": 15, "labelFlush": false, "tickSize": {"condition": {"test": "datum.value % 24 === 0", "value": -7}, "value": -4}, "title": "Start: 13-Apr-2009 00:00 UTC", "titleFontSize": 14, "titleX": 207.5, "titleY": 36, "titleAlign": "center", "titleBaseline": "alphabetic"}},
           "y": {"field": "v", "type": "quantitative", "scale": {"type": "log", "domain": [10000, 11200000], "nice": false}, "axis": {"orient": "left", "values": [100000, 1000000, 10000000], "labelExpr": "datum.value === 100000 ? '10⁵' : datum.value === 1000000 ? '10⁶' : ''", "tickSize": -8, "title": "Ion Temp", "titleX": -42, "titleBaseline": "middle"}},
           "color": {"field": "s", "type": "nominal", "scale": {"domain": ["a", "r", "b"], "range": ["#c8866c", "#ff0000", "#0000ff"]}, "legend": null}
         }},
        {"mark": {"type": "point", "opacity": 0},
         "encoding": {
           "x": {"field": "h", "type": "quantitative", "axis": {"orient": "top", "values": [0,6,12,18,24,30,36,42,48,54,60,66,72], "labels": false, "title": null, "tickSize": {"condition": {"test": "datum.value % 24 === 0", "value": -7}, "value": -4}}},
           "y": {"field": "v", "type": "quantitative", "axis": {"orient": "right", "values": [100000, 1000000, 10000000], "labels": false, "title": null, "tickSize": -8}}
         }},
        {"mark": {"type": "point", "opacity": 0},
         "encoding": {
           "x": {"field": "h", "type": "quantitative", "axis": {"orient": "bottom", "labels": false, "ticks": false, "domain": false, "title": "BLUE: Behind", "titleColor": "#0000ff", "titleFontSize": 14, "titleX": 0, "titleY": 36, "titleAlign": "left", "titleBaseline": "alphabetic"}},
           "y": {"field": "v", "type": "quantitative", "axis": null}
         }},
        {"mark": {"type": "point", "opacity": 0},
         "encoding": {
           "x": {"field": "h", "type": "quantitative", "axis": {"orient": "bottom", "labels": false, "ticks": false, "domain": false, "title": "RED: Ahead", "titleColor": "#ff0000", "titleFontSize": 14, "titleX": 412, "titleY": 36, "titleAlign": "right", "titleBaseline": "alphabetic"}},
           "y": {"field": "v", "type": "quantitative", "axis": null}
         }}
      ]
    }
  ]
}
